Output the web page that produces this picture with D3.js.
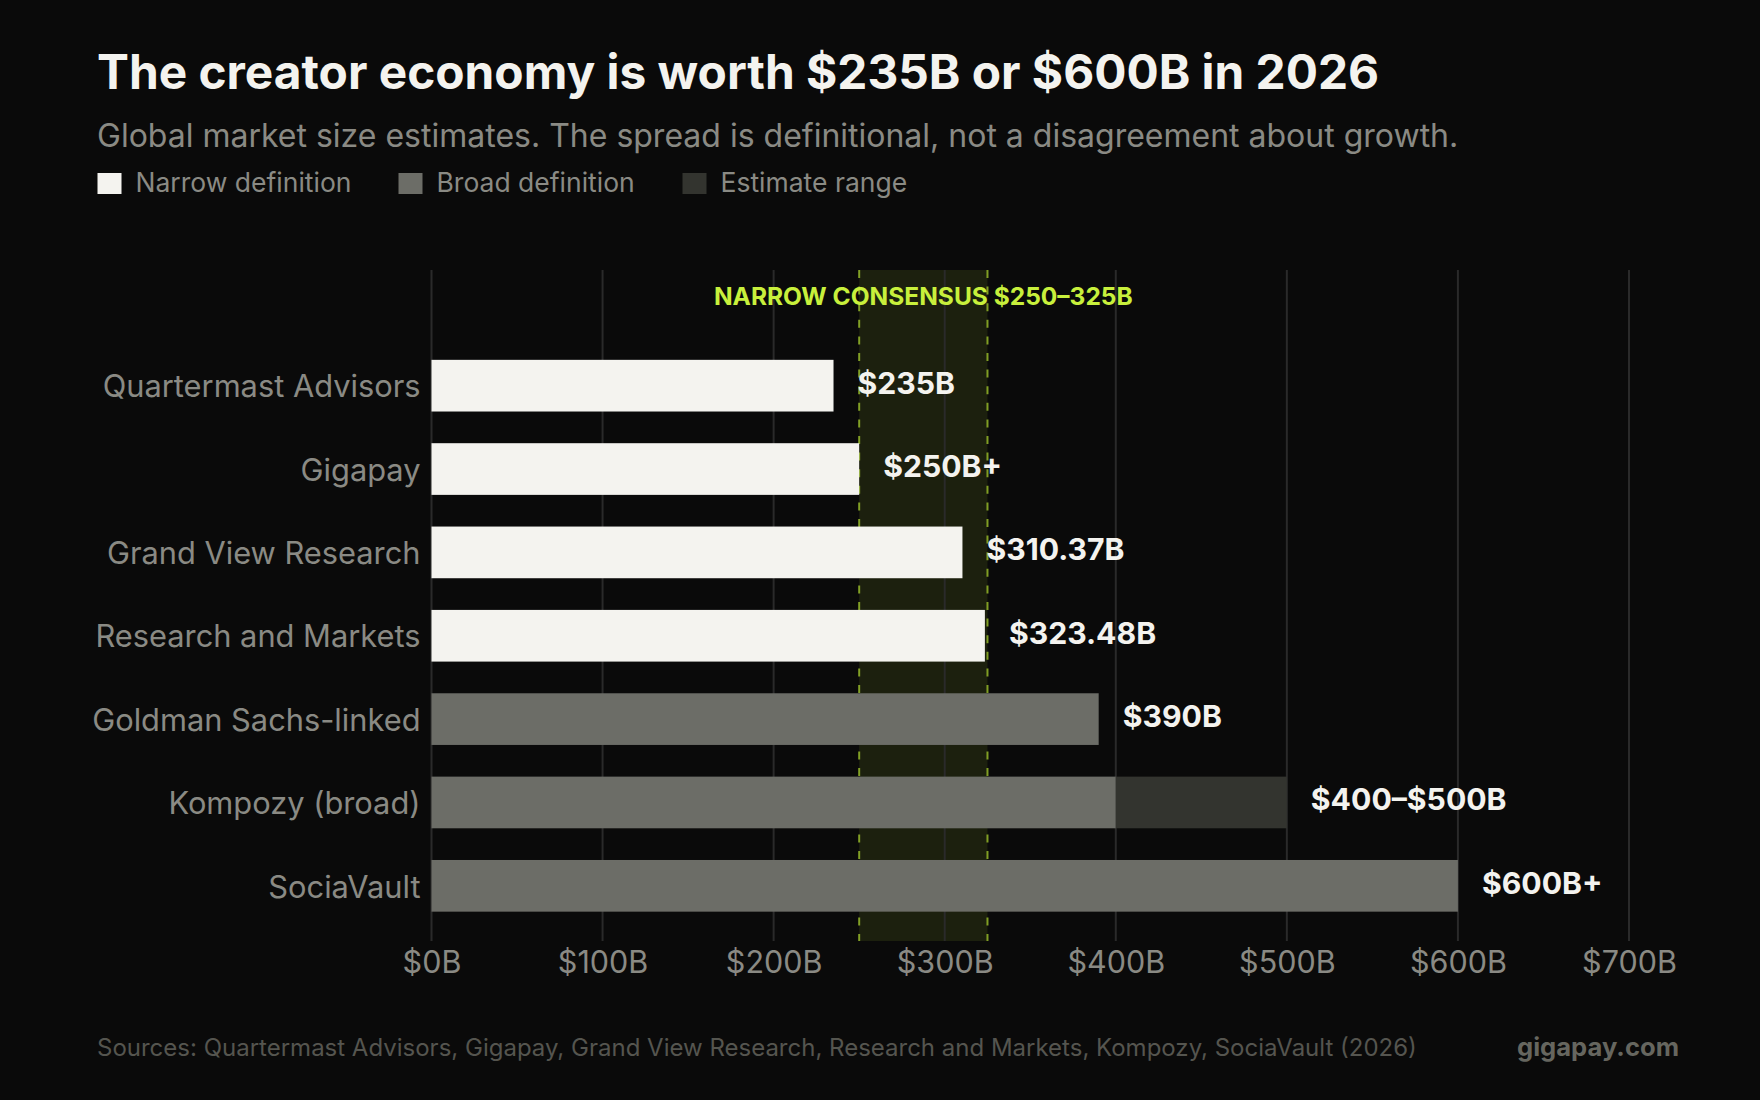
<!DOCTYPE html>
<html>
<head>
    <title>Creator economy estimates</title>
    <style>
        body { margin: 0; background-color: #0a0a0a; }
        #chart { display: block; background-color: #0a0a0a; font-family: Inter, "Noto Sans", sans-serif; }
    </style>
    <script src="https://d3js.org/d3.v7.min.js"></script>
</head>
<body>
    <svg id="chart" width="1760" height="1100"></svg>
    <script>
        // data
        var sources = ["Quartermast Advisors", "Gigapay", "Grand View Research", "Research and Markets",
                       "Goldman Sachs-linked", "Kompozy (broad)", "SociaVault"];
        var lowValues = [235, 250, 310.37, 323.48, 390, 400, 600];
        var highValues = [null, null, null, null, null, 500, null];
        var definitions = ["narrow", "narrow", "narrow", "narrow", "broad", "broad", "broad"];
        var valueLabels = ["$235B", "$250B+", "$310.37B", "$323.48B", "$390B", "$400–$500B", "$600B+"];
        var xTicks = [0, 100, 200, 300, 400, 500, 600, 700];
        var consensus = [250, 325];
        var legendItems = [["Narrow definition", "#f4f3ef"], ["Broad definition", "#6c6d67"], ["Estimate range", "#33342f"]];

        var svg = d3.select("#chart");

        var x = d3.scaleLinear().domain([0, 700]).range([431.5, 1629]);
        var y = d3.scaleBand().domain(sources).range([344, 927.5]).paddingInner(0.38).paddingOuter(0.19);
        var gridTop = 270, gridBottom = 941;

        // titles
        svg.append("text")
            .attr("x", 97).attr("y", 89)
            .attr("fill", "#f4f3ef")
            .style("font-size", "47.8px").style("font-weight", 700)
            .text("The creator economy is worth $235B or $600B in 2026");

        svg.append("text")
            .attr("x", 97).attr("y", 147)
            .attr("fill", "#8a8a84")
            .style("font-size", "32px")
            .text("Global market size estimates. The spread is definitional, not a disagreement about growth.");

        // legend
        var legendX = [97.5, 398.5, 682.5];
        legendItems.forEach(function(d, i) {
            svg.append("rect")
                .attr("x", legendX[i]).attr("y", 173)
                .attr("width", 24).attr("height", 21)
                .attr("fill", d[1]);
            svg.append("text")
                .attr("x", legendX[i] + 38).attr("y", 192)
                .attr("fill", "#8a8a84")
                .style("font-size", "26.5px")
                .text(d[0]);
        });

        // consensus band
        svg.append("rect")
            .attr("x", x(consensus[0])).attr("y", gridTop)
            .attr("width", x(consensus[1]) - x(consensus[0]))
            .attr("height", gridBottom - gridTop)
            .attr("fill", "#c8f03c").attr("fill-opacity", 0.1);

        // gridlines
        svg.append("g").selectAll("line")
            .data(xTicks)
            .join("line")
            .attr("x1", function(d) { return x(d); })
            .attr("x2", function(d) { return x(d); })
            .attr("y1", gridTop).attr("y2", gridBottom)
            .attr("stroke", "#2a2a2a").attr("stroke-width", 2);

        // dashed band edges
        svg.append("g").selectAll("line")
            .data(consensus)
            .join("line")
            .attr("x1", function(d) { return x(d); })
            .attr("x2", function(d) { return x(d); })
            .attr("y1", gridTop).attr("y2", gridBottom)
            .attr("stroke", "#a6cc2e").attr("stroke-opacity", 0.75)
            .attr("stroke-width", 2)
            .attr("stroke-dasharray", "8 8.6");

        svg.append("text")
            .attr("x", x((consensus[0] + consensus[1]) / 2)).attr("y", 296)
            .attr("text-anchor", "middle").attr("dominant-baseline", "central")
            .attr("fill", "#c8f03c")
            .style("font-size", "24.5px").style("font-weight", 700)
            .text("NARROW CONSENSUS $250–325B");

        // bars
        var bars = svg.append("g");
        sources.forEach(function(s, i) {
            bars.append("rect")
                .attr("x", x(0)).attr("y", y(s))
                .attr("width", x(lowValues[i]) - x(0))
                .attr("height", y.bandwidth())
                .attr("fill", definitions[i] == "narrow" ? "#f4f3ef" : "#6c6d67");
            if (highValues[i] != null) {
                bars.append("rect")
                    .attr("x", x(lowValues[i])).attr("y", y(s))
                    .attr("width", x(highValues[i]) - x(lowValues[i]))
                    .attr("height", y.bandwidth())
                    .attr("fill", "#33342f");
            }
            var end = highValues[i] != null ? highValues[i] : lowValues[i];
            bars.append("text")
                .attr("x", x(end) + 24)
                .attr("y", y(s) + y.bandwidth() / 2 - 3)
                .attr("dominant-baseline", "central")
                .attr("fill", "#f4f3ef")
                .style("font-size", "30.2px").style("font-weight", 700)
                .text(valueLabels[i]);
        });

        // category axis
        var yAxis = svg.append("g")
            .attr("transform", "translate(" + x(0) + ",0)")
            .call(d3.axisLeft(y).tickSize(0).tickPadding(11));
        yAxis.select(".domain").remove();
        yAxis.selectAll("text")
            .attr("fill", "#8a8a84")
            .attr("dy", "0.38em")
            .style("font-family", "Inter, sans-serif")
            .style("font-size", "30.8px");

        // value axis
        var xAxis = svg.append("g")
            .attr("transform", "translate(0," + gridBottom + ")")
            .call(d3.axisBottom(x).tickValues(xTicks).tickSize(0).tickPadding(10)
                .tickFormat(function(d) { return "$" + d + "B"; }));
        xAxis.select(".domain").remove();
        xAxis.selectAll("text")
            .attr("fill", "#8a8a84")
            .attr("dy", "0.71em")
            .style("font-family", "Inter, sans-serif")
            .style("font-size", "30.5px");

        // footer
        svg.append("text")
            .attr("x", 97).attr("y", 1056)
            .attr("fill", "#55554f")
            .style("font-size", "24px")
            .text("Sources: Quartermast Advisors, Gigapay, Grand View Research, Research and Markets, Kompozy, SociaVault (2026)");

        svg.append("text")
            .attr("x", 1679).attr("y", 1056)
            .attr("text-anchor", "end")
            .attr("fill", "#66665f")
            .style("font-size", "25.6px").style("font-weight", 700)
            .text("gigapay.com");
    </script>
</body>
</html>
